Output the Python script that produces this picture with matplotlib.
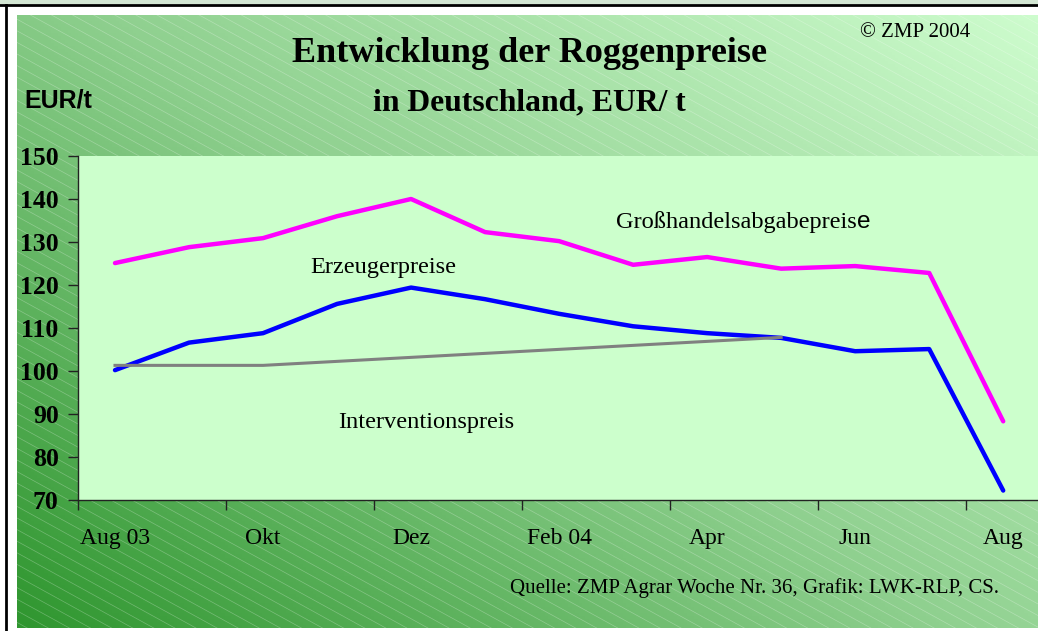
import numpy as np
import matplotlib
matplotlib.use("Agg")
import matplotlib.pyplot as plt
from matplotlib.colors import LinearSegmentedColormap
from matplotlib.collections import LineCollection
from matplotlib.patches import Rectangle
from matplotlib.lines import Line2D

# Data (monthly, Aug 03 - Aug 04)
months = list(range(13))
tick_labels = ["Aug 03", "Okt", "Dez", "Feb 04", "Apr", "Jun", "Aug"]
grosshandel = [125.1, 128.8, 130.9, 136.0, 140.0, 132.3, 130.2, 124.7, 126.5, 123.8, 124.4, 122.8, 88.3]
erzeuger = [100.2, 106.6, 108.8, 115.6, 119.4, 116.7, 113.3, 110.4, 108.8, 107.7, 104.6, 105.1, 72.2]
intervention = [101.31, 101.31, 101.31, 102.24, 103.17, 104.10, 105.03, 105.96, 106.89, 107.82]

W, H = 1038, 631
fig = plt.figure(figsize=(W / 100, H / 100), dpi=100)
fig.patch.set_facecolor("white")

serif = "Liberation Serif"
sans = "Liberation Sans"

def fx(px):
    return px / W

def fy(py):
    return 1 - py / H

# frame: top strip and black border lines
fig.patches.append(Rectangle((0, fy(4)), 1, 4 / H, transform=fig.transFigure,
                             facecolor="#d3e6d3", edgecolor="none", zorder=0))
fig.lines.append(Line2D([0, 1], [fy(5), fy(5)], transform=fig.transFigure,
                        color="black", lw=2, zorder=1))
fig.lines.append(Line2D([fx(6), fx(6)], [0, fy(5)], transform=fig.transFigure,
                        color="black", lw=2, zorder=1))

# gradient background with diagonal hatch
x0, x1, y0, y1 = 17, 1038, 15, 628
bg = fig.add_axes([fx(x0), fy(y1), fx(x1 - x0), (y1 - y0) / H], zorder=0)
bg.set_axis_off()
gx, gy = np.meshgrid(np.linspace(0, 1, 300), np.linspace(0, 1, 200))
grad = 0.55 * gx + 0.45 * gy
cmap = LinearSegmentedColormap.from_list("g", ["#2f962f", "#8fd08f", "#cdfccd"])
bg.imshow(grad, cmap=cmap, origin="lower", aspect="auto",
          extent=[x0, x1, y1, y0], vmin=0, vmax=1)
slope = 0.55
segs = []
for c in np.arange(-700, 640, 11.6):
    segs.append([(x0, c), (x1, c + slope * (x1 - x0))])
bg.add_collection(LineCollection(segs, colors="white", linewidths=0.5, alpha=0.28))
bg.set_xlim(x0, x1)
bg.set_ylim(y1, y0)

# main plot area
ax = fig.add_axes([fx(78), fy(500), fx(1038 - 78), (500 - 156) / H], zorder=2)
ax.set_facecolor("#ccffcc")
ax.plot(months, grosshandel, color="#ff00ff", lw=3.2, solid_capstyle="round", solid_joinstyle="round")
ax.plot(months, erzeuger, color="#0000ff", lw=3.2, solid_capstyle="round", solid_joinstyle="round")
ax.plot(months[:len(intervention)], intervention, color="#808080", lw=2.2)

ax.set_xlim(-0.5, 12.47)
ax.set_ylim(70, 150)
ax.set_yticks(range(70, 151, 10))
ax.set_yticklabels([str(v) for v in range(70, 151, 10)], fontfamily=serif,
                   fontweight="bold", fontsize=18.5)
ax.tick_params(axis="y", direction="out", length=7, width=1, pad=7, colors="#222222",
               labelcolor="black")

ax.set_xticks(np.arange(-0.5, 13, 2))
ax.set_xticklabels([])
ax.set_xticks(range(0, 13, 2), minor=True)
ax.set_xticklabels(tick_labels, minor=True, fontfamily=serif, fontsize=17)
ax.tick_params(axis="x", which="major", direction="out", length=7, width=1, colors="#222222")
ax.tick_params(axis="x", which="minor", length=0, pad=20)

for s in ["top", "right"]:
    ax.spines[s].set_visible(False)
for s in ["left", "bottom"]:
    ax.spines[s].set_color("#222222")
    ax.spines[s].set_linewidth(1)

# series labels
lab = fig.text(fx(616), fy(228), "Großhandelsabgabepreis", fontsize=17.6, fontfamily=serif,
               va="baseline", zorder=5)
renderer = fig.canvas.get_renderer()
bb = lab.get_window_extent(renderer)
fig.text(fx(bb.x1 + 0.5), fy(228), "e", fontsize=17.6, fontfamily=sans, va="baseline", zorder=5)
fig.text(fx(310), fy(273), "Erzeugerpreise", fontsize=17.6, fontfamily=serif, va="baseline", zorder=5)
fig.text(fx(338), fy(428), "Interventionspreis", fontsize=17.6, fontfamily=serif, va="baseline", zorder=5)

# titles and notes
fig.text(fx(529), fy(62), "Entwicklung der Roggenpreise", fontsize=26, fontweight="bold",
         fontfamily=serif, ha="center", va="baseline", zorder=5)
fig.text(fx(529), fy(110), "in Deutschland, EUR/ t", fontsize=22.8, fontweight="bold",
         fontfamily=serif, ha="center", va="baseline", zorder=5)
fig.text(fx(24), fy(107), "EUR/t", fontsize=18, fontweight="bold", fontfamily=sans,
         va="baseline", zorder=5)
fig.text(fx(860), fy(37), "© ZMP 2004", fontsize=15, fontfamily=serif, va="baseline", zorder=5)
fig.text(fx(510), fy(593), "Quelle: ZMP Agrar Woche Nr. 36, Grafik: LWK-RLP, CS.", fontsize=15,
         fontfamily=serif, va="baseline", zorder=5)

fig.savefig("out.png", dpi=100)
